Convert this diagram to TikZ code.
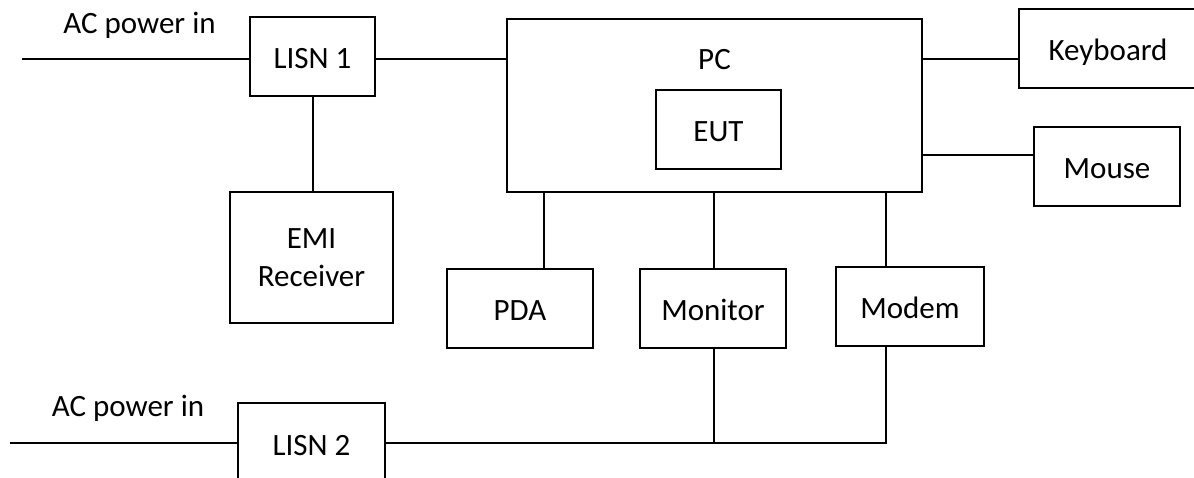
\documentclass[tikz,border=0pt]{standalone}
\usepackage{fontspec}
\setmainfont{Carlito}
\begin{document}
\begin{tikzpicture}[x=1pt,y=-1pt,
  boxbase/.style={draw,line width=2pt,inner sep=0pt,minimum height=79pt,align=center,font=\fontsize{31}{38}\selectfont},
  box/.style={boxbase,text height=24pt,text depth=0pt},
  txt/.style={inner sep=0pt,font=\fontsize{31}{38}\selectfont},
  wire/.style={line width=2pt}]
\useasboundingbox (0,0) rectangle (1194,477);
% boxes
\node[box,minimum width=125pt] (lisn1) at (312.5,56.5) {LISN 1};
\node[boxbase,minimum width=163pt,minimum height=131pt] (emi) at (311.5,257.5) {EMI\\Receiver};
\node[box,minimum width=415pt,minimum height=173pt] (pc) at (714.5,105.5) {};
\node[txt,anchor=base] (pclabel) at (714.5,69) {PC};
\node[box,minimum width=125pt] (eut) at (718.5,129.5) {EUT};
\node[box,minimum width=178pt] (kbd) at (1108,48.5) {Keyboard};
\node[box,minimum width=146pt] (mouse) at (1107,166.5) {Mouse};
\node[box,minimum width=146pt] (pda) at (520,308.5) {PDA};
\node[box,minimum width=146pt] (monitor) at (713,308.5) {Monitor};
\node[box,minimum width=148pt] (modem) at (910,306.5) {Modem};
\node[box,minimum width=147pt,minimum height=80pt] (lisn2) at (311.5,443) {LISN 2};
\node[txt,anchor=base] (ac1) at (139.5,33) {AC power in};
\node[txt,anchor=base] (ac2) at (128,416) {AC power in};
% free ends
\coordinate (in1) at (22,59);
\coordinate (in2) at (10,443);
\coordinate (mline) at (1000,155);
% connectors
\draw[wire] (in1) -- (in1 -| lisn1.west);
\draw[wire] (lisn1.east |- in1) -- (in1 -| pc.west);
\draw[wire] (pc.east |- in1) -- (in1 -| kbd.west);
\draw[wire] (pc.east |- mline) -- (mline -| mouse.west);
\draw[wire] (lisn1.south) -- (lisn1.south |- emi.north);
\draw[wire] ([xshift=24pt]pda.north) -- ([xshift=24pt]pda.north |- pc.south);
\draw[wire] ([xshift=1pt]monitor.north) -- ([xshift=1pt]monitor.north |- pc.south);
\draw[wire] ([xshift=-24pt]modem.north) -- ([xshift=-24pt]modem.north |- pc.south);
\draw[wire] (in2) -- (lisn2.west);
\draw[wire] ([xshift=-24pt]modem.south) |- (lisn2.east);
\draw[wire] ([xshift=1pt]monitor.south) -- ([xshift=1pt]monitor.south |- lisn2.east);
\end{tikzpicture}
\end{document}
